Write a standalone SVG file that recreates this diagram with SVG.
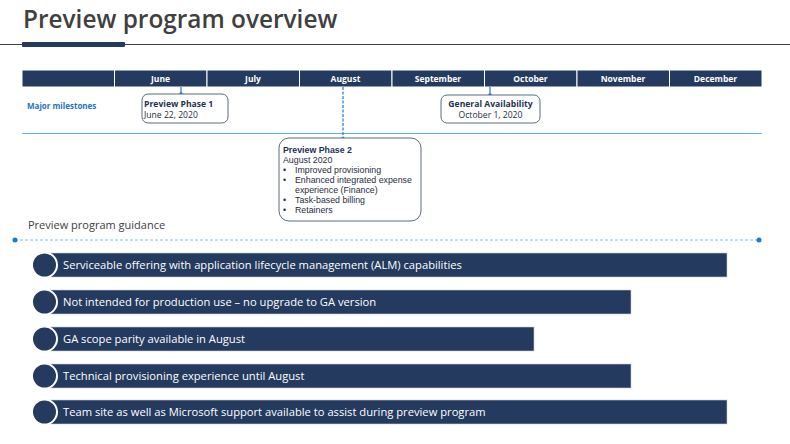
<svg xmlns="http://www.w3.org/2000/svg" width="790" height="444" viewBox="0 0 790 444">
<style>
.f{font-family:"Open Sans","Noto Sans","Liberation Sans",sans-serif}
.g{font-family:"Liberation Sans",Arial,sans-serif}
.hdr{fill:#fff;font-size:8.5px;font-weight:bold;text-anchor:middle}
.col{fill:#243a5e;stroke:#fff;stroke-width:1}
.ms{fill:#fff;stroke:#5b6b80;stroke-width:1}
.mt{font-size:8.6px;fill:#1f2d3d}
.mb{font-size:8.6px;font-weight:bold;fill:#1f3255}
.pt{font-size:8.8px;fill:#1f2d3d}
.pb{font-size:8.8px;font-weight:bold;fill:#1f3255}
.bar{fill:#243a5e;stroke:#c8ced8;stroke-width:0.6}
.cir{fill:#243a5e;stroke:#fff;stroke-width:2}
.bt{font-size:11.2px;fill:#fff}
.dot{fill:#1e78d8}
</style>
<rect width="790" height="444" fill="#fff"/>
<g id="title">
<text class="f" x="23" y="28" font-size="24.4" font-weight="600" fill="#404040">Preview program overview</text>
<line x1="0" y1="44.5" x2="790" y2="44.5" stroke="#404040" stroke-width="1"/>
<rect x="22" y="42" width="103" height="5" rx="1" fill="#243a5e"/>
</g>
<g id="timeline">
<rect class="col" x="22" y="70" width="92.5" height="17"/>
<rect class="col" x="114.5" y="70" width="92.5" height="17"/>
<rect class="col" x="207" y="70" width="92.5" height="17"/>
<rect class="col" x="299.5" y="70" width="92.5" height="17"/>
<rect class="col" x="392" y="70" width="92.5" height="17"/>
<rect class="col" x="484.5" y="70" width="92.5" height="17"/>
<rect class="col" x="577" y="70" width="92.5" height="17"/>
<rect class="col" x="669.5" y="70" width="92.5" height="17"/>
<text class="f hdr" x="160.5" y="82">June</text>
<text class="f hdr" x="253" y="82">July</text>
<text class="f hdr" x="345.5" y="82">August</text>
<text class="f hdr" x="438" y="82">September</text>
<text class="f hdr" x="530.5" y="82">October</text>
<text class="f hdr" x="623" y="82">November</text>
<text class="f hdr" x="715.5" y="82">December</text>
<text class="f" x="27" y="109" font-size="8" font-weight="bold" fill="#1e73be">Major milestones</text>
<line x1="22" y1="133.5" x2="762" y2="133.5" stroke="#5fb0e8" stroke-width="1.2"/>
</g>
<g id="connectors">
<line x1="181" y1="87" x2="181" y2="94" stroke="#1e78d8" stroke-width="1.2"/>
<circle class="dot" cx="181" cy="94" r="1.8"/>
<line x1="490" y1="87" x2="490" y2="95" stroke="#1e78d8" stroke-width="1.2"/>
<circle class="dot" cx="490" cy="95" r="1.8"/>
<line x1="343" y1="87" x2="343" y2="138" stroke="#1e78d8" stroke-width="1.2" stroke-dasharray="3,1.5"/>
<circle class="dot" cx="343" cy="139" r="2"/>
<line x1="15" y1="240" x2="759" y2="240" stroke="#7cbfea" stroke-width="1" stroke-dasharray="3,2"/>
<circle class="dot" cx="15" cy="240" r="2.5"/>
<circle class="dot" cx="759" cy="240" r="2.5"/>
</g>
<g id="phase1">
<rect class="ms" x="142" y="94" width="86" height="29" rx="6"/>
<text class="f mb" x="144" y="107">Preview Phase 1</text>
<text class="f mt" x="144" y="118">June 22, 2020</text>
</g>
<g id="ga">
<rect class="ms" x="441" y="95" width="99" height="28" rx="6"/>
<text class="f mb" x="490.5" y="107" text-anchor="middle">General Availability</text>
<text class="f mt" x="490.5" y="118" text-anchor="middle">October 1, 2020</text>
</g>
<g id="phase2">
<rect class="ms" x="279" y="138" width="142" height="83" rx="10"/>
<text class="g pb" x="283" y="153">Preview Phase 2</text>
<text class="g pt" x="283" y="163">August 2020</text>
<text class="g pt" x="283" y="173">•</text>
<text class="g pt" x="295" y="173">Improved provisioning</text>
<text class="g pt" x="283" y="183">•</text>
<text class="g pt" x="295" y="183">Enhanced integrated expense</text>
<text class="g pt" x="295" y="193">experience (Finance)</text>
<text class="g pt" x="283" y="203">•</text>
<text class="g pt" x="295" y="203">Task-based billing</text>
<text class="g pt" x="283" y="213">•</text>
<text class="g pt" x="295" y="213">Retainers</text>
</g>
<text class="f" x="28" y="229" font-size="11" fill="#404040">Preview program guidance</text>
<g id="item1">
<rect class="bar" x="48" y="253" width="679" height="24"/>
<circle class="cir" cx="44.5" cy="265" r="12.5"/>
<text class="f bt" x="63" y="269">Serviceable offering with application lifecycle management (ALM) capabilities</text>
</g>
<g id="item2">
<rect class="bar" x="48" y="290" width="583" height="24"/>
<circle class="cir" cx="44.5" cy="302" r="12.5"/>
<text class="f bt" x="63" y="306">Not intended for production use – no upgrade to GA version</text>
</g>
<g id="item3">
<rect class="bar" x="48" y="327" width="486" height="24"/>
<circle class="cir" cx="44.5" cy="339" r="12.5"/>
<text class="f bt" x="63" y="343">GA scope parity available in August</text>
</g>
<g id="item4">
<rect class="bar" x="48" y="364" width="583" height="24"/>
<circle class="cir" cx="44.5" cy="376" r="12.5"/>
<text class="f bt" x="63" y="380">Technical provisioning experience until August</text>
</g>
<g id="item5">
<rect class="bar" x="48" y="400" width="679" height="24"/>
<circle class="cir" cx="44.5" cy="412" r="12.5"/>
<text class="f bt" x="63" y="416">Team site as well as Microsoft support available to assist during preview program</text>
</g>
</svg>
